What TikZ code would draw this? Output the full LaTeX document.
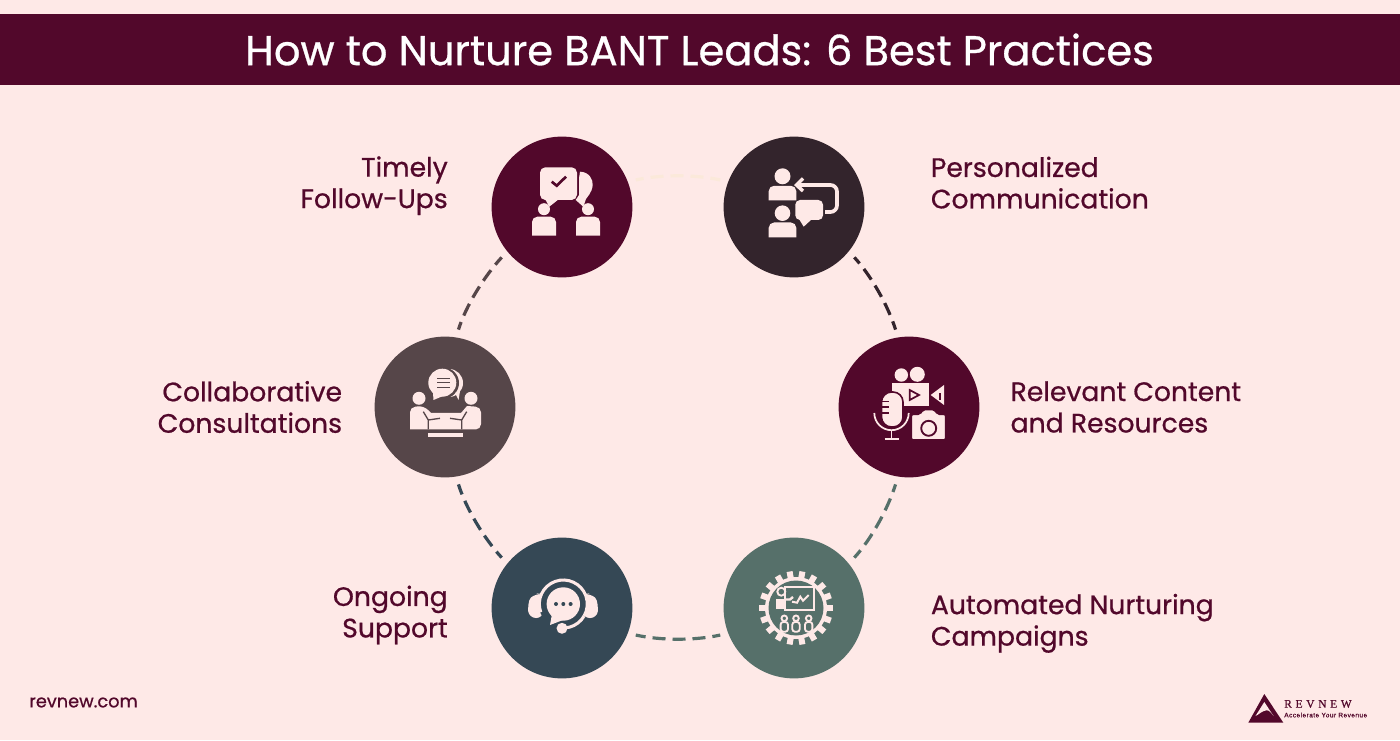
\documentclass[tikz,border=0pt]{standalone}
\usepackage{fontspec}
\setmainfont{Poppins}[FakeBold=0.7]
\newfontfamily\logoserif{Liberation Serif}[LetterSpace=32,FakeBold=0.6]
\newfontfamily\logosans{Liberation Sans}[LetterSpace=7,FakeBold=0.5]
\usetikzlibrary{calc, positioning}

\definecolor{blush}{HTML}{FEE9E7}
\definecolor{plum}{HTML}{52082B}
\definecolor{cocoa}{HTML}{33242C}
\definecolor{taupe}{HTML}{564649}
\definecolor{slate}{HTML}{354855}
\definecolor{sage}{HTML}{56706A}
\definecolor{cream}{HTML}{FBE9DA}

\tikzset{
  hub/.style={circle, inner sep=0pt, minimum size=105.6pt},
  caption/.style={text=plum, inner sep=0pt, font=\fontsize{20pt}{23.6pt}\selectfont},
  iconpaint/.style={fill=blush},
  ringlink/.style={line width=2.4pt, dash pattern=on 9.75pt off 5.25pt, dash phase=3.75pt,
    shorten <=6pt, shorten >=6pt, looseness=0.86}
}

% person: x, base y, half width, body height, head radius
\newcommand{\personicon}[5]{
  \fill[iconpaint] ({#1},{#2+#4+#5+1.5}) circle (#5);
  \fill[iconpaint] ({#1-#3},{#2}) [rounded corners=4pt] -- ({#1-#3},{#2+#4}) -- ({#1+#3},{#2+#4}) [sharp corners] -- ({#1+#3},{#2}) -- cycle;
}

\begin{document}
\begin{tikzpicture}[x=0.75pt, y=0.75pt]

\useasboundingbox (0,0) rectangle (1400,740);
\fill[blush] (0,0) rectangle (1400,740);

% Title band
\node (banner) at (699.5,690.5) [fill=plum, text=white, inner sep=0pt, minimum width=1050.5pt, minimum height=53.25pt,
  font=\fontsize{31.2pt}{36pt}\selectfont] {How to Nurture BANT Leads: 6 Best Practices};

% The six discs
\node[hub, fill=plum]  (followups) at (562,533) {};
\node[hub, fill=cocoa] (personal)  at (794,533) {};
\node[hub, fill=plum]  (content)   at (909,333) {};
\node[hub, fill=sage]  (campaigns) at (794,132) {};
\node[hub, fill=slate] (support)   at (562,132) {};
\node[hub, fill=taupe] (consult)   at (445,333) {};

% Dashed ring, clockwise
\foreach \from/\to/\dir/\tint in {followups/personal/0/cream, personal/content/-60/cocoa,
    content/campaigns/-120/sage, campaigns/support/180/sage, support/consult/120/slate, consult/followups/60/taupe} {
  \pgfmathsetmacro{\startat}{\dir+21}
  \pgfmathsetmacro{\leave}{\dir+12.5}
  \pgfmathsetmacro{\endat}{\dir+159}
  \pgfmathsetmacro{\enter}{\dir+167.5}
  \draw[ringlink, \tint] (\from.\startat) to[out=\leave, in=\enter] (\to.\endat);
}

% Captions
\node[caption, align=right, left=32.5pt of followups, yshift=16pt] (followupstext) {Timely\\Follow-Ups};
\node[caption, align=left, right=49.5pt of personal, yshift=18.25pt] (personaltext) {Personalized\\Communication};
\node[caption, align=left, right=23pt of content] (contenttext) {Relevant Content\\and Resources};
\node[caption, align=left, right=49.5pt of campaigns, yshift=-11.5pt] (campaignstext) {Automated Nurturing\\Campaigns};
\node[caption, align=right, left=32.5pt of support, yshift=-5.25pt] (supporttext) {Ongoing\\Support};
\node[caption, align=right, left=24pt of consult] (consulttext) {Collaborative\\Consultations};

% Icon: two people and speech bubbles
\begin{scope}[shift={(followups.center)}]
  \fill[iconpaint] (18,35.3) .. controls (27,35) and (31,28) .. (30.7,22) .. controls (30,14) and (25,10) .. (24,8) -- (21.3,0.3) -- (13.7,7) -- (17,12) -- (17,28.7) -- cycle;
  \fill[iconpaint, rounded corners=4pt] (-22,39.7) rectangle (15,7);
  \fill[iconpaint] (-17,8) -- (-12.7,0.3) -- (-3,8) -- cycle;
  \draw[plum, line width=2pt] (-10.3,25.3) -- (-5.3,21.3) -- (4,30.3);
  \personicon{-18}{-28.7}{12}{19}{6}
  \personicon{26}{-28.7}{12}{19}{6}
\end{scope}

% Icon: two people with a returning arrow
\begin{scope}[shift={(personal.center)}]
  \personicon{-11.5}{-30.5}{13.8}{15}{7.8}
  \personicon{-11.5}{6.7}{13.8}{14.5}{8}
  \draw[blush, line width=2.8pt, rounded corners=5pt] (3,22) -- (43,22) -- (43,-5) -- (31,-5);
  \draw[blush, line width=2.6pt] (9,28.5) -- (2.5,22) -- (9,16);
  \fill[iconpaint, rounded corners=3.5pt] (1.3,7) rectangle (29,-13);
  \fill[iconpaint] (5,-12) -- (9.7,-19.7) -- (18,-12) -- cycle;
\end{scope}

% Icon: video, microphone and camera
\begin{scope}[shift={(content.center)}]
  \fill[iconpaint] (-7.7,32) circle (6.7);
  \fill[iconpaint] (8.3,32.7) circle (7.5);
  \fill[iconpaint] (-17,23.7) rectangle (19.7,1);
  \fill[iconpaint] (21.7,12) -- (35,22) -- (35,2) -- cycle;
  \draw[plum, line width=1pt] (31,7) -- (31,14);
  \draw[plum, line width=1.3pt] (0.7,17) -- (0.7,7) -- (10,12) -- cycle;
  \fill[iconpaint, draw=plum, line width=1.2pt, rounded corners=7.5pt] (-27.5,15) rectangle (-6,-20);
  \draw[plum, line width=1.2pt] (-27,5.5) -- (-20,5.5) (-27,0) -- (-20,0) (-27,-6) -- (-20,-6);
  \draw[blush, line width=1.3pt] (-34.7,-6) arc (180:360:17.2);
  \draw[blush, line width=1.3pt] (-17.5,-23.5) -- (-17.5,-31) (-24.5,-32) -- (-10,-32);
  \fill[iconpaint, draw=plum, line width=1.2pt, rounded corners=1.5pt] (2.3,-33) -- (2.3,-7.3) -- (11,-7.3) -- (14,-2.5) -- (25.5,-2.5) -- (28.5,-7.3) -- (36.7,-7.3) -- (36.7,-33) -- cycle;
  \draw[plum, line width=1.4pt] (19.7,-21.3) circle (7.5);
\end{scope}

% Icon: gear with a presenter and audience
\begin{scope}[shift={(campaigns.center)}]
  \foreach \a in {0,20,...,340}
    \fill[iconpaint] ($(2,0)+(\a:29)$) ++(\a-90:3) -- ++(\a:8) -- ++(\a+90:6) -- ++(\a+180:8) -- cycle;
  \fill[iconpaint] (2,0) circle (31);
  \fill[sage] (2,0) circle (27.5);
  \draw[blush, line width=1.5pt] (-8.7,20.7) rectangle (19.7,-2);
  \draw[blush, line width=1.5pt] (-2,6.3) -- (3,5.3) -- (6.3,11.3) -- (9,7.3) -- (14.7,13);
  \fill[iconpaint] (-17.7,-1.3) rectangle (-8.7,9.5);
  \draw[blush, line width=1.4pt] (-12.7,16.3) circle (4);
  \draw[blush, line width=1.8pt] (-9,8.5) -- (-4,8.5) -- (-1,11);
  \foreach \p in {-9.7,2,14.7} {
    \draw[blush, line width=1.4pt] (\p,-10.3) circle (2.8);
    \draw[blush, line width=1.4pt, rounded corners=2pt] ({\p-3.7},-23.7) rectangle ({\p+3.7},-14);
  }
\end{scope}

% Icon: headset and chat bubble
\begin{scope}[shift={(support.center)}]
  \fill[iconpaint, rounded corners=5pt] (-32.7,-10) .. controls (-34,-2) and (-34,8) .. (-26,14.7) -- (-19,14) -- (-19,-10) -- cycle;
  \fill[iconpaint, rounded corners=5pt] (35,-10) .. controls (36,-2) and (36,8) .. (28,14.7) -- (21,14) -- (21,-10) -- cycle;
  \fill[slate] (1.3,4) circle (24.5);
  \draw[blush, line width=2.3pt] (1.3,4) ++(200:24) arc (200:-30:24);
  \draw[blush, line width=2.3pt] (1.3,4) ++(-30:24) arc (-30:-75:24) -- (0,-20);
  \fill[iconpaint] (1.3,4) circle (16.7);
  \fill[iconpaint] (-10,-6) -- (-12,-17) -- (1,-12) -- cycle;
  \fill[slate] (-6,4) circle (2) (1.3,4) circle (2) (8.6,4) circle (2);
  \fill[iconpaint] (0,-20.3) circle (5.5);
\end{scope}

% Icon: meeting round a table
\begin{scope}[shift={(consult.center)}]
  \fill[iconpaint] (4,24) circle (14);
  \fill[taupe] (-1.5,24) circle (15.5);
  \fill[iconpaint] (-2.7,24.3) circle (14);
  \fill[iconpaint] (-12,14) -- (-11.5,7) -- (-2,11) -- cycle;
  \fill[iconpaint] (10,14) -- (13.5,7) -- (15,16) -- cycle;
  \draw[taupe, line width=1.1pt] (-8,28.7) -- (5,28.7) (-8,24.3) -- (5,24.3) (-8,19.7) -- (5,19.7);
  \fill[iconpaint] (-26,8.7) circle (6.5);
  \fill[iconpaint] (26,8.7) circle (6.5);
  \fill[iconpaint] (-35,-22.5) [rounded corners=4pt] -- (-35,0) -- (-21,1) [sharp corners] -- (-14,-6) -- (16,-6) -- (22,1) [rounded corners=4pt] -- (36,0) -- (36,-22.5) [sharp corners] -- cycle;
  \draw[taupe, line width=1pt] (-21.7,-4.7) -- (-16.7,-13) -- (-5,-11.3) (21.7,-4.7) -- (16.7,-13) -- (5,-11.3) (-16.7,-13) -- (-16.7,-22.5) (16.7,-13) -- (16.7,-22.5);
  \fill[iconpaint] (-17,-26.3) rectangle (18,-29.7);
\end{scope}

% Footer
\node[text=plum, anchor=west, inner sep=0pt, font=\fontsize{13.3pt}{16pt}\selectfont] (site) at (29,37.5) {revnew.com};

% Logo
\fill[plum] (1264.3,46) -- (1283.3,17.3) -- (1248.3,17.3) -- cycle;
\fill[blush] (1264.3,38) -- (1273.5,24) .. controls (1270,29) and (1268,31) .. (1264,29) .. controls (1261,28) and (1258,25) .. (1255.5,24) -- cycle;
\node[text=plum, anchor=west, inner sep=0pt, font=\logoserif\fontsize{8.6pt}{10pt}\selectfont] (logoname) at (1284,36) {REVNEW};
\node[text=plum, anchor=west, inner sep=0pt, font=\logosans\fontsize{4.9pt}{6pt}\selectfont] (logotag) at (1284,25) {Accelerate Your Revenue};

\end{tikzpicture}
\end{document}
